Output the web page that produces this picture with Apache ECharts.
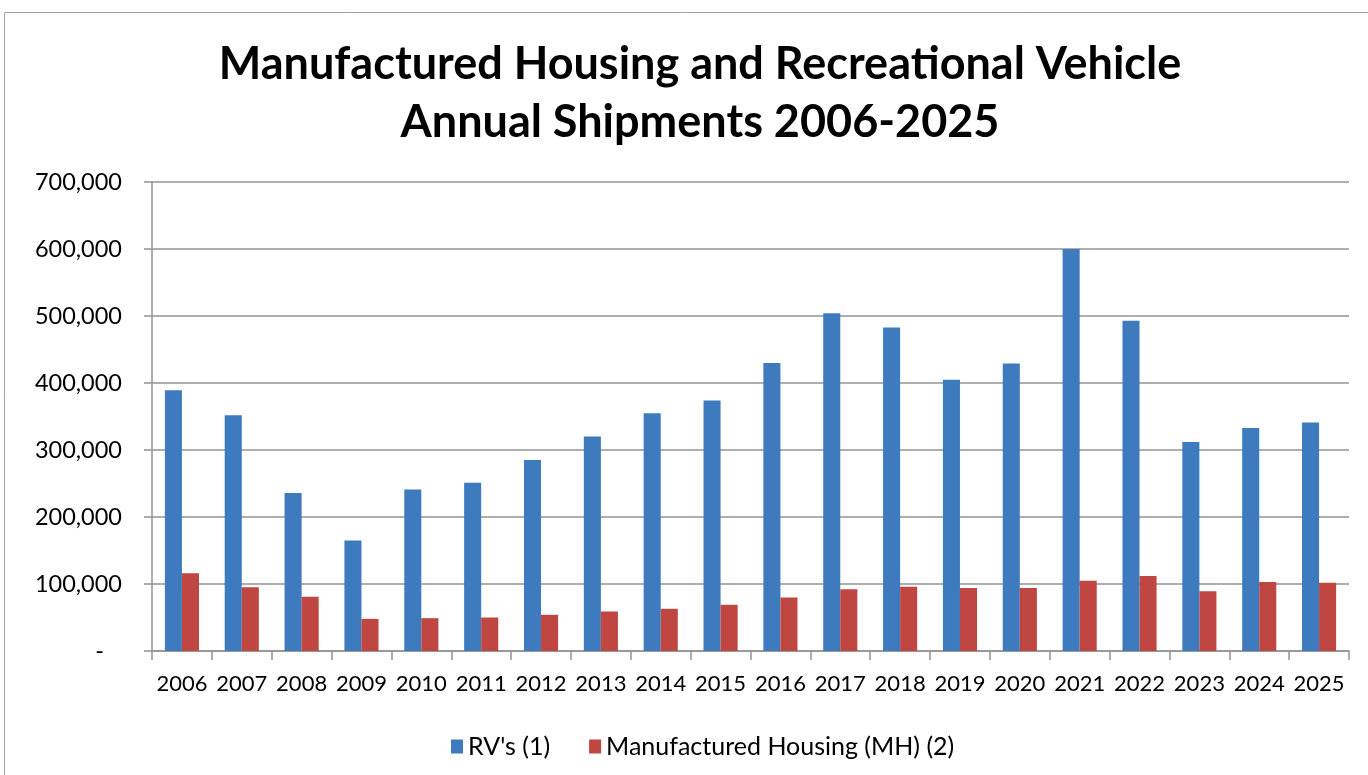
<!DOCTYPE html>
<html>
<head>
<meta charset="utf-8">
<script src="https://cdn.jsdelivr.net/npm/echarts@6/dist/echarts.min.js"></script>
<style>
  html, body { margin: 0; padding: 0; background: #fff; }
  #chart { width: 1368px; height: 775px; }
</style>
</head>
<body>
<div id="chart"></div>
<script>
// shipment data
const years = ['2006', '2007', '2008', '2009', '2010', '2011', '2012', '2013', '2014', '2015',
  '2016', '2017', '2018', '2019', '2020', '2021', '2022', '2023', '2024', '2025']
const rvShipments = [389000, 352000, 236000, 165000, 241000, 251000, 285000, 320000, 355000, 374000,
  430000, 504000, 483000, 405000, 429000, 600000, 493000, 312000, 333000, 341000]
const mhShipments = [116000, 95000, 81000, 48000, 49000, 50000, 54000, 59000, 63000, 69000,
  80000, 92000, 96000, 94000, 94000, 105000, 112000, 89000, 103000, 102000]
const seriesNames = ["RV's (1)", 'Manufactured Housing (MH) (2)']

const font = 'Lato, "Open Sans", sans-serif'
const gridColor = '#939393'

const chart = echarts.init(document.getElementById('chart'))
chart.setOption({
  animation: false,
  textStyle: { fontFamily: font },
  title: {
    text: 'Manufactured Housing and Recreational Vehicle\nAnnual Shipments 2006-2025',
    left: 695,
    top: 30,
    textAlign: 'center',
    textStyle: {
      fontFamily: font,
      fontSize: 45,
      fontWeight: 'bold',
      color: '#000',
      lineHeight: 58
    }
  },
  graphic: [{
    type: 'rect',
    silent: true,
    shape: { x: 4.5, y: 12.5, width: 1400, height: 800 },
    style: { fill: 'none', stroke: '#a0a0a0', lineWidth: 1 }
  }],
  legend: {
    left: 446,
    top: 729,
    itemWidth: 12,
    itemHeight: 14,
    itemGap: 39,
    icon: 'rect',
    textStyle: { fontFamily: font, fontSize: 25, color: '#000' },
    data: seriesNames
  },
  grid: { left: 152, right: 19, top: 182, bottom: 124 },
  xAxis: {
    type: 'category',
    data: years,
    axisLine: { lineStyle: { color: gridColor, width: 1.5 } },
    axisTick: { show: true, length: 9, lineStyle: { color: gridColor, width: 1.5 } },
    axisLabel: { margin: 22, fontSize: 22, color: '#000', fontFamily: font, interval: 0 }
  },
  yAxis: {
    type: 'value',
    min: 0,
    max: 700000,
    interval: 100000,
    axisLine: { show: true, lineStyle: { color: gridColor, width: 1.5 } },
    axisTick: { show: true, length: 8, lineStyle: { color: gridColor, width: 1.5 } },
    splitLine: { lineStyle: { color: gridColor, width: 1.5 } },
    axisLabel: {
      margin: 30,
      fontSize: 23.5,
      color: '#000',
      fontFamily: font,
      formatter: v => v === 0 ? '-   ' : v.toLocaleString('en-US')
    }
  },
  series: [
    {
      name: seriesNames[0],
      type: 'bar',
      data: rvShipments,
      barGap: '0%',
      barCategoryGap: '43%',
      itemStyle: { color: '#3e7bbe' }
    },
    {
      name: seriesNames[1],
      type: 'bar',
      data: mhShipments,
      itemStyle: { color: '#bf4641' }
    }
  ]
})
</script>
</body>
</html>
